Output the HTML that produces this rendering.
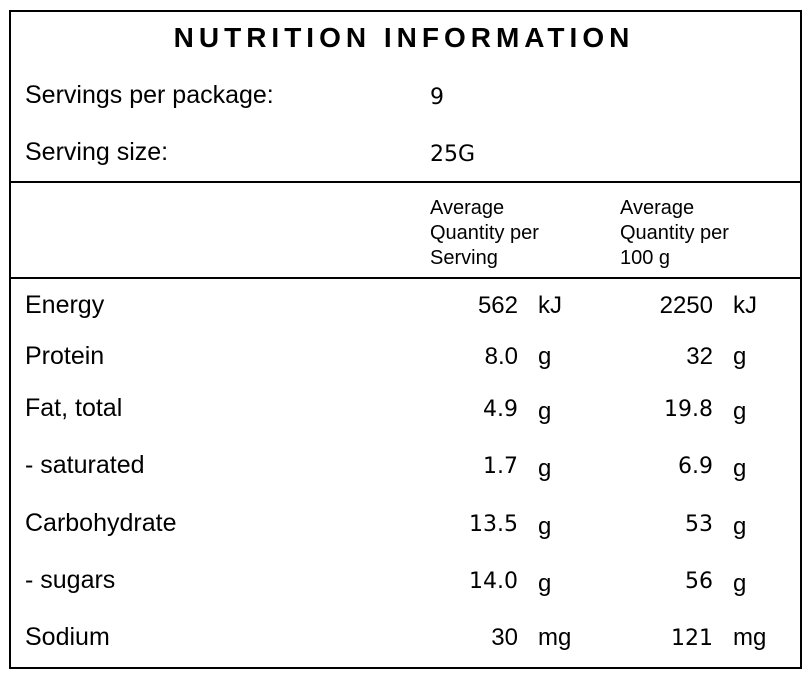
<!DOCTYPE html>
<html><head><meta charset="utf-8"><style>
body{margin:0;width:808px;height:678px;background:#fff;position:relative;font-family:"Liberation Sans",Arial,sans-serif;color:#000;overflow:hidden}
.box{position:absolute;left:9px;top:10px;width:789px;height:655px;border:2px solid #000}
.hl{position:absolute;left:9px;width:793px;height:2px;background:#000}
.t{position:absolute;white-space:nowrap;line-height:1}
.s{font-family:"DejaVu Sans",sans-serif}
.r{text-align:right}
</style></head><body>
<div class="box"></div>
<div class="hl" style="top:181px"></div>
<div class="hl" style="top:277px"></div>
<div class="t" style="left:0;width:808px;text-align:center;top:24px;font-size:28px;font-weight:bold;letter-spacing:5px">NUTRITION INFORMATION</div>
<div class="t" style="left:25px;top:83px;font-size:25px">Servings per package:</div>
<div class="t s" style="left:430px;top:87px;font-size:22px">9</div>
<div class="t" style="left:25px;top:140px;font-size:25px">Serving size:</div>
<div class="t s" style="left:430px;top:144px;font-size:22px">25G</div>
<div class="t" style="left:430px;top:196px;font-size:20px;line-height:25px;white-space:normal;width:170px">Average<br>Quantity per<br>Serving</div>
<div class="t" style="left:620px;top:196px;font-size:20px;line-height:25px;white-space:normal;width:170px">Average<br>Quantity per<br>100 g</div>
<div id="rows"></div>
<script>
const names=["Energy","Protein","Fat, total","- saturated","Carbohydrate","- sugars","Sodium"];
const perServing=["562","8.0","4.9","1.7","13.5","14.0","30"];
const per100=["2250","32","19.8","6.9","53","56","121"];
const units=["kJ","g","g","g","g","g","mg"];
const sansRows=[true,true,false,false,false,false,true];
const tops=[293,344,396,453,511,568,625];
const c=document.getElementById('rows');
function mk(txt,style,cls){const d=document.createElement('div');d.className='t '+(cls||'');d.textContent=txt;d.setAttribute('style',style);c.appendChild(d);return d;}
names.forEach((n,i)=>{
 const y=tops[i];
 const a=mk(n,`left:25px;top:${y}px;font-size:25px`);
 
 
 const s1=sansRows[i];
 const s2=sansRows[i]&&i!==6;
 const b=mk(perServing[i],`left:400px;width:118px;top:${y+(s1?1:3)}px;font-size:${s1?24:22}px`,s1?'r':'r s');
 
 
 const u1=mk(units[i],`left:538px;top:${y+(s1?1:4)}px;font-size:24px`);
 
 
 const d=mk(per100[i],`left:590px;width:123px;top:${y+(s2?1:3)}px;font-size:${s2?24:22}px`,s2?'r':'r s');
 
 
 const u2=mk(units[i],`left:733px;top:${y+(s1?1:4)}px;font-size:24px`);
 
 
});
</script>
</body></html>
